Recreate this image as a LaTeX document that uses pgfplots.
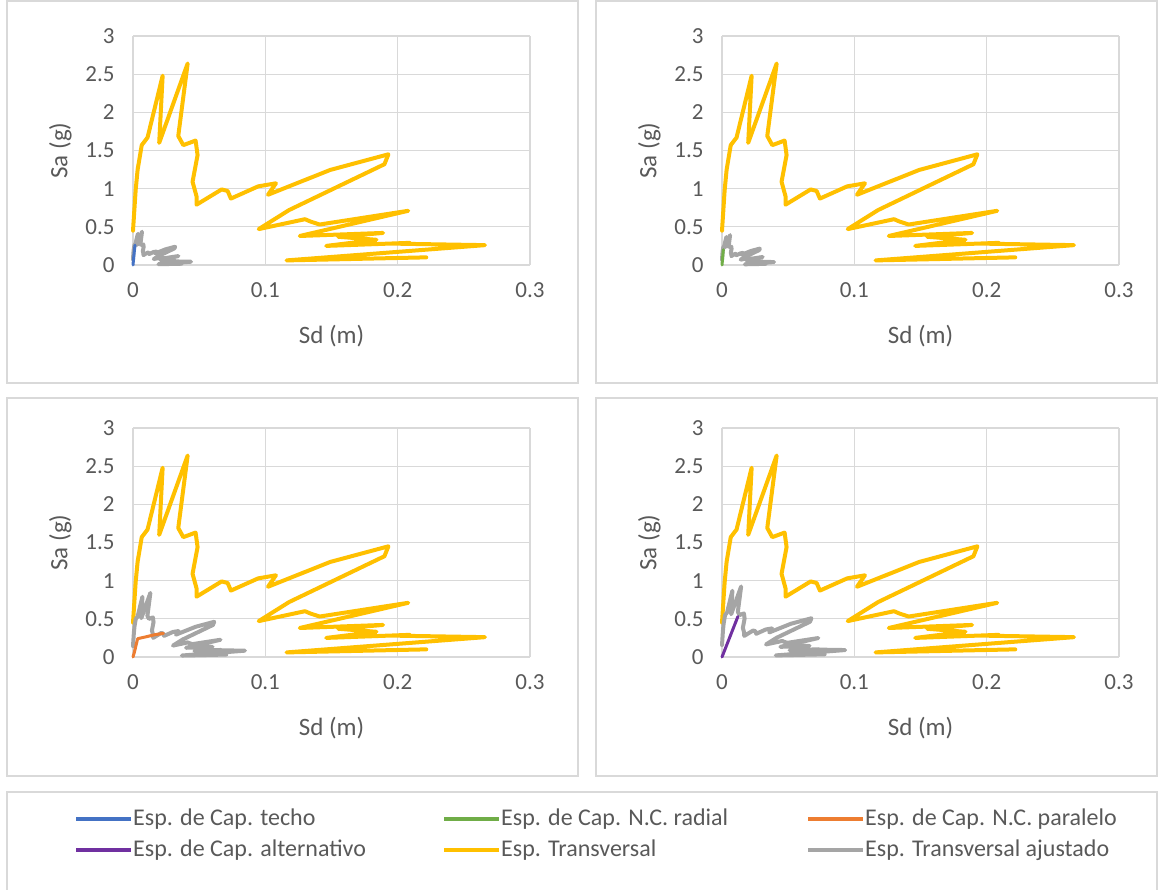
\documentclass[border=0pt]{standalone}
\usepackage{pgfplots}
\pgfplotsset{compat=1.18}
\usepackage{pgfplotstable}
\usepackage{fontspec}
\setmainfont{Carlito}
\definecolor{txt}{HTML}{595959}
\definecolor{gridc}{HTML}{D9D9D9}
\definecolor{cblue}{HTML}{4472C4}
\definecolor{cgreen}{HTML}{70AD47}
\definecolor{corange}{HTML}{ED7D31}
\definecolor{cpurple}{HTML}{7030A0}
\definecolor{cyellow}{HTML}{FFC000}
\definecolor{cgray}{HTML}{A5A5A5}

% Esp. Transversal
\pgfplotstableread{
x y
0 0.45
0.002 0.98
0.0035 1.25
0.0066 1.57
0.011 1.67
0.0224 2.48
0.0198 1.60
0.0413 2.64
0.0342 1.69
0.038 1.57
0.0473 1.63
0.0488 1.44
0.045 1.09
0.048 0.90
0.048 0.79
0.067 0.99
0.0715 0.97
0.074 0.87
0.0946 1.03
0.108 1.07
0.102 0.92
0.149 1.245
0.193 1.45
0.190 1.32
0.118 0.72
0.095 0.47
0.130 0.60
0.134 0.57
0.141 0.53
0.208 0.71
0.126 0.38
0.189 0.42
0.155 0.37
0.184 0.33
0.146 0.25
0.209 0.29
0.196 0.28
0.266 0.26
0.116 0.06
0.2216 0.10
}\transv

% Esp. Transversal ajustado, panel 1
\pgfplotstableread{
x y
0 0.074
0.00033 0.162
0.00058 0.206
0.00109 0.259
0.00182 0.276
0.0037 0.409
0.00327 0.264
0.00681 0.436
0.00564 0.279
0.00627 0.259
0.0078 0.269
0.00805 0.238
0.00743 0.180
0.00792 0.1485
0.00792 0.130
0.01106 0.163
0.0118 0.160
0.01221 0.1436
0.01561 0.170
0.01782 0.1766
0.01683 0.1518
0.02459 0.2054
0.03185 0.239
0.03135 0.218
0.01947 0.119
0.01568 0.0776
0.02145 0.099
0.02211 0.094
0.02327 0.0875
0.03432 0.117
0.02079 0.0627
0.03119 0.0693
0.02558 0.061
0.03036 0.0545
0.02409 0.0413
0.03449 0.0479
0.03234 0.0462
0.04389 0.0429
0.01914 0.0099
0.03656 0.0165
}\grayA

% panel 2
\pgfplotstableread{
x y
0 0.0666
0.0003 0.145
0.00052 0.185
0.00098 0.232
0.00163 0.247
0.00332 0.367
0.00293 0.237
0.00611 0.391
0.00506 0.250
0.00562 0.232
0.007 0.241
0.00722 0.213
0.00666 0.161
0.0071 0.133
0.0071 0.117
0.00992 0.1465
0.01058 0.1436
0.01095 0.1288
0.014 0.1524
0.01598 0.1584
0.0151 0.1362
0.02205 0.1843
0.02856 0.2146
0.02812 0.1954
0.01746 0.1066
0.01406 0.0696
0.01924 0.0888
0.01983 0.0844
0.02087 0.0784
0.03078 0.1051
0.01865 0.0562
0.02797 0.0622
0.02294 0.0548
0.02723 0.0488
0.02161 0.037
0.03093 0.0429
0.02901 0.0414
0.03937 0.0385
0.01717 0.0089
0.0328 0.0148
}\grayB

% panel 3
\pgfplotstableread{
x y
0 0.143
0.00064 0.312
0.00111 0.3975
0.0021 0.499
0.0035 0.531
0.00712 0.789
0.0063 0.509
0.01313 0.8395
0.01088 0.537
0.01208 0.499
0.01504 0.518
0.01552 0.458
0.01431 0.347
0.01526 0.286
0.01526 0.251
0.02131 0.315
0.02274 0.308
0.02353 0.277
0.03008 0.3275
0.03434 0.340
0.03244 0.2926
0.04738 0.396
0.06137 0.461
0.06042 0.4198
0.03752 0.229
0.03021 0.1495
0.04134 0.1908
0.04261 0.1813
0.04484 0.1685
0.06614 0.2258
0.04007 0.1208
0.0601 0.1336
0.04929 0.1177
0.05851 0.1049
0.04643 0.0795
0.06646 0.0922
0.06233 0.089
0.08459 0.0827
0.03689 0.0191
0.07047 0.0318
}\grayC

% panel 4
\pgfplotstableread{
x y
0 0.1575
0.0007 0.343
0.00123 0.4375
0.00231 0.5495
0.00385 0.5845
0.00784 0.868
0.00693 0.56
0.01446 0.924
0.01197 0.5915
0.0133 0.5495
0.01656 0.5705
0.01708 0.504
0.01575 0.3815
0.0168 0.315
0.0168 0.2765
0.02345 0.3465
0.02503 0.3395
0.0259 0.3045
0.03311 0.3605
0.0378 0.3745
0.0357 0.322
0.05215 0.4358
0.06755 0.5075
0.0665 0.462
0.0413 0.252
0.03325 0.1645
0.0455 0.21
0.0469 0.1995
0.04935 0.1855
0.0728 0.2485
0.0441 0.133
0.06615 0.147
0.05425 0.1295
0.0644 0.1155
0.0511 0.0875
0.07315 0.1015
0.0686 0.098
0.0931 0.091
0.0406 0.021
0.07756 0.035
}\grayD

\pgfplotsset{
  panel/.style={
    scale only axis, width=397pt, height=229pt,
    anchor=south west, clip=false,
    xmin=0, xmax=0.3, ymin=0, ymax=3,
    xtick={0,0.1,0.2,0.3}, xticklabels={0,0.1,0.2,0.3},
    ytick={0,0.5,1,1.5,2,2.5,3}, yticklabels={0,0.5,1,1.5,2,2.5,3},
    grid=major, major grid style={draw=gridc, line width=1.3pt},
    axis line style={draw=none},
    major tick length=0pt,
    tick label style={font=\fontsize{23}{27}\selectfont, text=txt},
    xticklabel style={yshift=-14pt},
    yticklabel style={xshift=-15pt},
    xlabel={Sd (m)}, ylabel={Sa (g)},
    every axis x label/.style={at={(axis description cs:0.5,-0.31)}, anchor=center, font=\fontsize{25}{30}\selectfont, text=txt},
    every axis y label/.style={at={(axis description cs:-0.183,0.5)}, anchor=center, rotate=90, font=\fontsize{25}{30}\selectfont, text=txt},
    every axis plot/.append style={line join=round, line cap=round},
  },
  ylw/.style={draw=cyellow, line width=4pt, no markers},
  gry/.style={draw=cgray, line width=4pt, no markers},
  cap/.style={line width=3pt, no markers},
}

\begin{document}
\begin{tikzpicture}
\path[use as bounding box] (0pt,0pt) rectangle (1158pt,890pt);
% frames
\draw[gridc, line width=1.3pt] (7pt,507pt) rectangle (578pt,889pt);
\draw[gridc, line width=1.3pt] (596pt,507pt) rectangle (1157pt,889pt);
\draw[gridc, line width=1.3pt] (7pt,114pt) rectangle (578pt,492pt);
\draw[gridc, line width=1.3pt] (596pt,114pt) rectangle (1157pt,492pt);
\draw[gridc, line width=1.3pt] (7pt,-2pt) rectangle (1157pt,98pt);

\begin{axis}[panel, at={(133pt,625pt)}]
\addplot[ylw] table {\transv};
\addplot[gry] table {\grayA};
\addplot[cap, draw=cblue] coordinates {(0,0) (0.0008,0.15) (0.0015,0.26)};
\end{axis}

\begin{axis}[panel, at={(722pt,625pt)}]
\addplot[ylw] table {\transv};
\addplot[gry] table {\grayB};
\addplot[cap, draw=cgreen] coordinates {(0,0) (0.0006,0.12) (0.001,0.2)};
\end{axis}

\begin{axis}[panel, at={(133pt,233pt)}]
\addplot[ylw] table {\transv};
\addplot[gry] table {\grayC};
\addplot[cap, draw=corange] coordinates {(0,0) (0.001,0.06) (0.0035,0.24) (0.01,0.265) (0.016,0.29) (0.023,0.31)};
\end{axis}

\begin{axis}[panel, at={(722pt,233pt)}]
\addplot[ylw] table {\transv};
\addplot[gry] table {\grayD};
\addplot[cap, draw=cpurple] coordinates {(0,0) (0.012,0.53)};
\end{axis}

% legend
\begin{scope}[every node/.style={font=\fontsize{24}{28}\selectfont, text=txt, anchor=west, inner sep=0pt}]
\draw[cblue, line width=3.5pt] (76pt,71pt) -- (131pt,71pt);
\node at (133pt,71pt) {Esp. de Cap. techo};
\draw[cgreen, line width=3.5pt] (444pt,71pt) -- (499pt,71pt);
\node at (501pt,71pt) {Esp. de Cap. N.C. radial};
\draw[corange, line width=3.5pt] (808pt,71pt) -- (863pt,71pt);
\node at (865pt,71pt) {Esp. de Cap. N.C. paralelo};
\draw[cpurple, line width=3.5pt] (76pt,40pt) -- (131pt,40pt);
\node at (133pt,40pt) {Esp. de Cap. alternativo};
\draw[cyellow, line width=3.5pt] (444pt,40pt) -- (499pt,40pt);
\node at (501pt,40pt) {Esp. Transversal};
\draw[cgray, line width=3.5pt] (808pt,40pt) -- (863pt,40pt);
\node at (865pt,40pt) {Esp. Transversal ajustado};
\end{scope}
\end{tikzpicture}
\end{document}
